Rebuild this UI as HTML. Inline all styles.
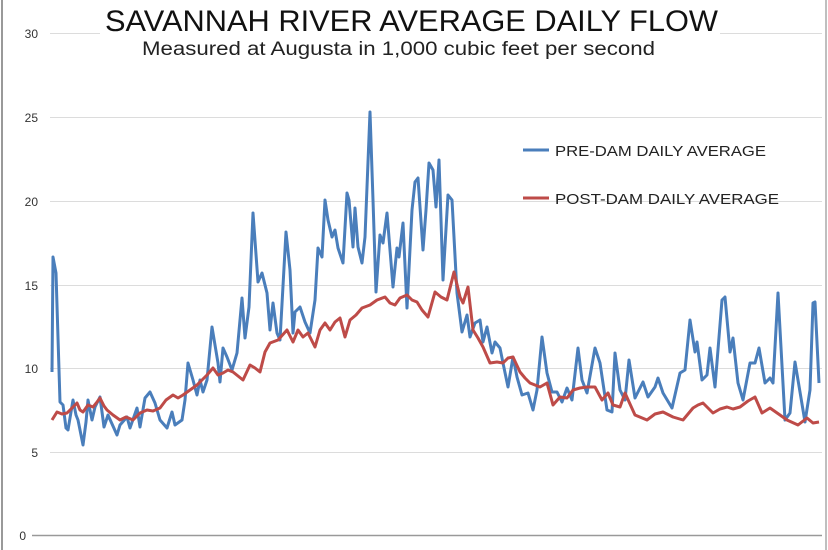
<!DOCTYPE html>
<html><head><meta charset="utf-8"><style>
body{margin:0;background:#fff;}
svg{display:block;font-family:"Liberation Sans",sans-serif;}
</style></head><body>
<svg width="828" height="550" viewBox="0 0 828 550">
<rect width="828" height="550" fill="#fff"/>
<line x1="2" y1="0" x2="2" y2="550" stroke="#999" stroke-width="2"/>
<line x1="826" y1="0" x2="826" y2="550" stroke="#aaa" stroke-width="1.5"/>
<g stroke="#dcdcdc" stroke-width="1">
<line x1="50" y1="33.5" x2="822" y2="33.5"/>
<line x1="50" y1="117.5" x2="822" y2="117.5"/>
<line x1="50" y1="201.5" x2="822" y2="201.5"/>
<line x1="50" y1="285.5" x2="822" y2="285.5"/>
<line x1="50" y1="368.5" x2="822" y2="368.5"/>
<line x1="50" y1="452.5" x2="822" y2="452.5"/>
</g>
<line x1="32" y1="535.5" x2="822" y2="535.5" stroke="#999" stroke-width="1.5"/>
<g font-size="12" fill="#333" text-anchor="end">
<text x="38" y="38">30</text><text x="38" y="122">25</text><text x="38" y="206">20</text>
<text x="38" y="290">15</text><text x="38" y="373">10</text><text x="38" y="457">5</text><text x="26" y="540">0</text>
</g>
<rect x="100" y="5" width="620" height="60" fill="#fff"/>
<text x="105" y="31" font-size="30" fill="#111" textLength="613" lengthAdjust="spacingAndGlyphs">SAVANNAH RIVER AVERAGE DAILY FLOW</text>
<text x="142" y="55" font-size="19" fill="#222" textLength="513" lengthAdjust="spacingAndGlyphs">Measured at Augusta in 1,000 cubic feet per second</text>
<polyline fill="none" stroke="#4a7ebb" stroke-width="3" stroke-linejoin="round" points="52,372 53,257 56,273 60,402 63,405 66,428 68,430 73,400 76,415 78,420 83,445 86,422 88,400 92,420 95,407 100,397 104,427 108,415 117,435 120,425 127,417 130,428 137,408 140,427 145,398 150,392 155,403 160,420 167,428 172,412 175,425 182,420 185,400 188,363 193,380 197,395 200,380 203,392 207,380 212,327 218,363 220,382 223,348 227,357 232,370 237,353 242,298 245,338 249,307 253,213 258,282 262,273 267,293 270,330 273,303 277,333 280,340 286,232 290,270 293,333 295,312 300,307 305,322 310,333 315,300 318,248 322,257 325,200 328,220 332,237 335,230 338,248 343,263 347,193 349,200 353,247 355,208 358,247 362,263 365,237 370,112 373,200 376,292 380,235 383,243 387,213 393,287 397,248 399,257 403,223 407,308 412,210 415,182 418,178 423,250 426,210 429,163 433,170 436,207 439,160 443,280 448,195 452,200 457,293 462,332 467,315 470,337 475,323 480,320 483,342 487,327 492,353 495,342 500,348 503,363 508,387 513,357 517,377 522,395 528,393 533,410 537,390 542,337 547,373 552,392 557,392 562,402 567,388 572,400 578,348 582,380 587,393 595,348 600,363 607,410 612,412 615,353 620,390 625,400 629,360 635,398 643,382 648,397 655,387 658,378 663,393 672,408 680,373 685,370 690,320 695,352 697,342 702,380 707,375 710,348 715,387 722,300 725,297 730,352 733,338 738,383 743,400 750,363 755,363 759,348 765,383 770,378 773,383 778,293 785,420 790,413 795,362 800,392 805,422 810,390 813,303 815,302 819,383"/>
<polyline fill="none" stroke="#be4b48" stroke-width="3" stroke-linejoin="round" points="52,420 57,412 62,414 67,413 72,408 77,403 80,410 83,412 88,405 93,407 97,402 100,398 104,406 107,410 113,415 120,420 126,417 133,420 140,413 147,410 153,411 160,408 166,400 173,395 178,398 183,395 190,390 197,385 202,380 207,375 213,368 218,375 223,373 228,370 233,372 238,376 243,380 250,365 255,368 260,372 265,352 270,343 278,340 287,330 293,342 298,330 303,337 308,333 315,347 320,330 325,323 330,330 335,322 340,318 345,337 350,320 356,315 362,308 370,305 377,300 385,297 390,303 395,305 400,298 407,295 412,300 417,302 422,310 428,317 435,292 441,297 447,300 454,272 460,297 463,303 468,287 473,330 478,338 483,347 490,363 497,362 503,363 508,358 513,357 520,372 525,378 530,383 535,385 540,387 547,383 553,405 560,397 567,398 573,390 580,388 587,387 595,387 602,400 608,393 613,405 620,407 625,393 635,415 647,420 655,414 663,412 673,417 683,420 688,414 693,408 698,405 703,403 713,413 720,409 727,407 733,409 740,407 748,401 755,397 762,413 770,408 780,415 787,420 798,425 807,418 813,423 819,422"/>
<line x1="523" y1="150" x2="549" y2="150" stroke="#4a7ebb" stroke-width="3"/>
<line x1="523" y1="198" x2="549" y2="198" stroke="#be4b48" stroke-width="3"/>
<text x="555" y="156" font-size="15" fill="#222" textLength="211" lengthAdjust="spacingAndGlyphs">PRE-DAM DAILY AVERAGE</text>
<text x="555" y="204" font-size="15" fill="#222" textLength="224" lengthAdjust="spacingAndGlyphs">POST-DAM DAILY AVERAGE</text>
</svg>
</body></html>
